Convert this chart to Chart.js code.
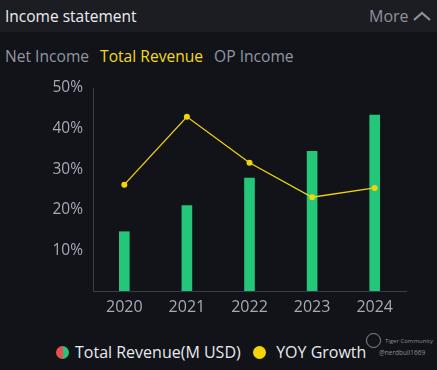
<!DOCTYPE html>
<html><head><meta charset="utf-8">
<script src="https://cdn.jsdelivr.net/npm/chart.js@4"></script>
<style>
html,body{margin:0;padding:0;background:#111318;width:437px;height:370px;overflow:hidden;font-family:"Open Sans","Noto Sans",sans-serif;}
#hdr{position:absolute;left:0;top:0;width:437px;height:32px;background:#1b1d23;}
#title{position:absolute;left:5px;top:5px;font-size:15.5px;color:#eceef2;}
#more{position:absolute;left:369px;top:5px;font-size:16px;color:#8d919d;}
#chev{position:absolute;left:412px;top:11px;}
#tabs{position:absolute;left:5px;top:45px;font-size:15.6px;color:#9296a4;white-space:nowrap;}
#tabs span{margin-right:11px;}
#tabs .on{color:#f2da1d;}
#wrap{position:absolute;left:0;top:70px;width:437px;height:250px;}
#legend{position:absolute;left:56px;top:341px;font-size:16px;color:#e8eaee;white-space:nowrap;}
.dot{display:inline-block;width:13px;height:13px;border-radius:50%;vertical-align:-1px;margin-right:6px;}
#wm{position:absolute;left:366px;top:333px;color:#8a8d96;font-size:6px;line-height:12px;white-space:nowrap;}
#wm .logo{position:absolute;left:0;top:0;width:13px;height:13px;border:1px solid #8a8d96;border-radius:50%;}
</style></head>
<body>
<div id="hdr"><div id="title">Income statement</div><div id="more">More</div>
<svg id="chev" width="20" height="11"><polyline points="2,9 10,2 18,9" fill="none" stroke="#8d919d" stroke-width="2.2"/></svg></div>
<div id="tabs"><span>Net Income</span><span class="on">Total Revenue</span><span>OP Income</span></div>
<div id="wrap"><canvas id="c" width="437" height="250"></canvas></div>
<div id="legend"><span class="dot" style="background:linear-gradient(90deg,#e9504f 50%,#25c47a 50%)"></span>Total Revenue(M USD)&nbsp;&nbsp;&nbsp;<span class="dot" style="background:#f5d50a;margin-right:10px"></span>YOY Growth</div>
<div id="wm"><div class="logo"></div><div style="padding-left:19px;padding-top:2px">Tiger Community</div><div style="padding-left:13px;font-size:6.5px">@nerdbull1669</div></div>
<script>
const years = ['2020','2021','2022','2023','2024'];
const revenue = [2920, 4210, 5560, 6880, 8660];
const yoyGrowth = [26.2, 42.9, 31.6, 23.1, 25.4];
const yTickLabels = {10:'10%',20:'20%',30:'30%',40:'40%',50:'50%'};

new Chart(document.getElementById('c'), {
  data: {
    labels: years,
    datasets: [
      {type:'line', label:'YOY Growth', data: yoyGrowth, yAxisID:'y', borderColor:'#f2d40c', backgroundColor:'#f2d40c', borderWidth:1.3, pointRadius:3, pointBackgroundColor:'#f2d40c', pointBorderWidth:0, tension:0, order:0},
      {type:'bar', label:'Total Revenue(M USD)', data: revenue, yAxisID:'y2', backgroundColor:'#22c77a', barThickness:10, order:1}
    ]
  },
  options: {
    responsive:false, animation:false,
    layout:{padding:{left:0,right:31,top:18,bottom:0}},
    plugins:{legend:{display:false}, tooltip:{enabled:false}},
    scales:{
      x:{offset:true, grid:{display:false}, border:{display:true,color:'#3a3d45',width:1},
         ticks:{color:'#a6aab7', font:{family:'Open Sans', size:16}, padding:-1},
         afterFit:(s)=>{s.height=29;}},
      y:{position:'left', min:0, max:50, grid:{display:false}, border:{display:true,color:'#3a3d45',width:1},
         ticks:{stepSize:10, color:'#a6aab7', font:{family:'Open Sans', size:15.5}, padding:2,
           callback:(v)=>yTickLabels[v]||''},
         afterFit:(s)=>{s.width=93;}},
      y2:{display:false, min:0, max:10000}
    }
  }
});
</script>
</body></html>
